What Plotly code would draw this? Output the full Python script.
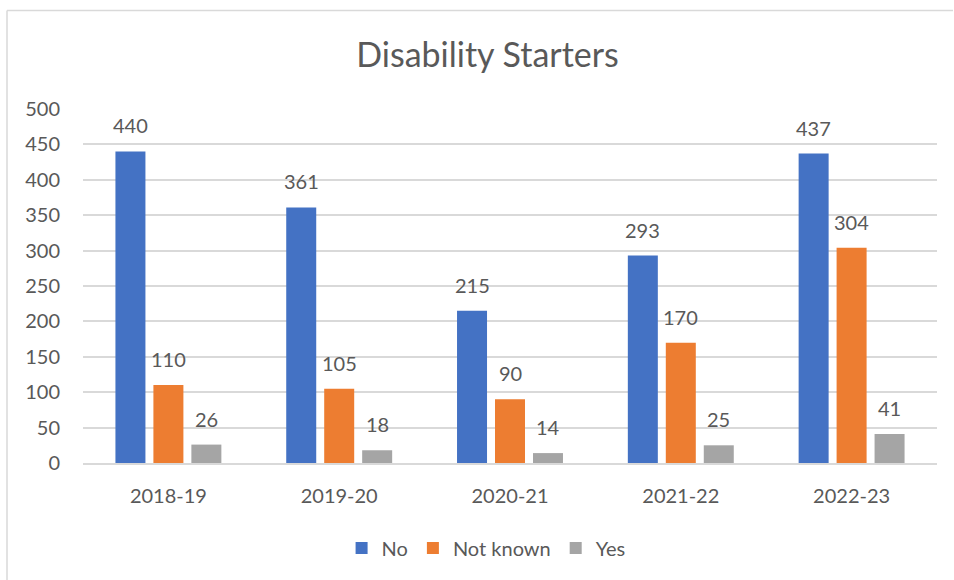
import plotly.graph_objects as go

categories = ["2018-19", "2019-20", "2020-21", "2021-22", "2022-23"]
series_names = ["No", "Not known", "Yes"]
no_vals = [440, 361, 215, 293, 437]
not_known_vals = [110, 105, 90, 170, 304]
yes_vals = [26, 18, 14, 25, 41]
colors = ["#4472C4", "#ED7D31", "#A5A5A5"]
y_ticks = [0, 50, 100, 150, 200, 250, 300, 350, 400, 450, 500]

series_vals = [no_vals, not_known_vals, yes_vals]
FONT = "Lato"
TXT = "#595959"
BARGAP = 0.333
BARGROUPGAP = 0.21

fig = go.Figure()
for name, vals, col in zip(series_names, series_vals, colors):
    fig.add_trace(go.Bar(
        x=categories, y=vals, name=name,
        marker=dict(color=col, line=dict(color=col, width=0)),
        hoverinfo="x+y+name",
    ))

# data labels positioned above each bar via annotations
n = len(series_vals)
slot = (1 - BARGAP) / n
annotations = []
for j, vals in enumerate(series_vals):
    for i, v in enumerate(vals):
        annotations.append(dict(
            x=i + (j - (n - 1) / 2) * slot, y=v, xref="x", yref="y",
            text=str(v), showarrow=False, yanchor="bottom", yshift=12,
            font=dict(family=FONT, size=20, color=TXT),
        ))

fig.update_layout(
    width=954, height=580,
    margin=dict(l=83, r=17, t=109, b=117),
    paper_bgcolor="white", plot_bgcolor="white",
    barmode="group", bargap=BARGAP, bargroupgap=BARGROUPGAP,
    title=dict(text="Disability Starters", x=0.511, xref="container", xanchor="center",
               y=1 - 55 / 580, yref="container", yanchor="middle",
               font=dict(family=FONT, size=34, color=TXT)),
    font=dict(family=FONT, size=20, color=TXT),
    showlegend=True,
    legend=dict(orientation="h", x=0.472, xanchor="center", y=-0.24, yanchor="middle",
                font=dict(family=FONT, size=20, color=TXT), itemwidth=30,
                traceorder="normal"),
    annotations=annotations,
    shapes=[
        dict(type="line", xref="paper", yref="paper", x0=(7 - 83) / 854, x1=(953 - 83) / 854,
             y0=(463 - 10.5) / 354, y1=(463 - 10.5) / 354, line=dict(color="#D9D9D9", width=1.5)),
        dict(type="line", xref="paper", yref="paper", x0=(7 - 83) / 854, x1=(7 - 83) / 854,
             y0=(463 - 10.5) / 354, y1=(463 - 590) / 354, line=dict(color="#D9D9D9", width=1.5)),
    ],
)
fig.update_xaxes(showgrid=False, showline=True, linecolor="#D9D9D9", linewidth=1.5,
                 ticks="", tickfont=dict(family=FONT, size=20, color=TXT),
                 ticklabelstandoff=14)
fig.update_yaxes(range=[0, 500], tickvals=y_ticks, showgrid=True, gridcolor="#D9D9D9",
                 gridwidth=1.5, zeroline=False, showline=False, ticks="",
                 tickfont=dict(family=FONT, size=20, color=TXT), ticklabelstandoff=22)

fig.write_html("out.html", config={"displayModeBar": False},
               post_script="document.body.style.margin='0';document.body.style.overflow='hidden';")
